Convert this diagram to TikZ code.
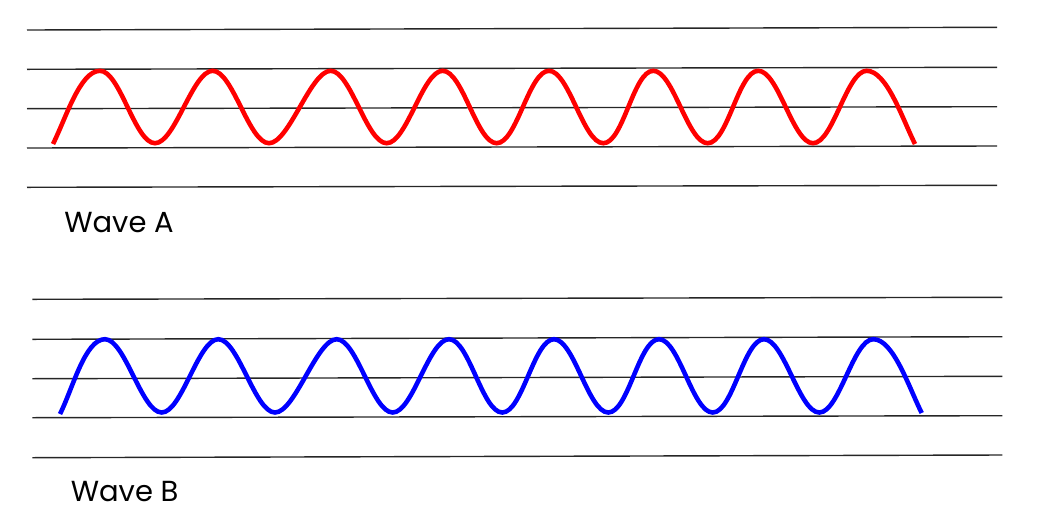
\documentclass[tikz,border=0pt]{standalone}
\usepackage{fontspec}
\setmainfont{Poppins}

\tikzset{
  every node/.style={font=\fontsize{16.5}{18}\selectfont, inner sep=0pt},
  staff/.style={line width=0.8pt, black!85},
  redwave/.style={line width=2.6pt, red},
  bluewave/.style={line width=2.6pt, blue},
}

\begin{document}
\begin{tikzpicture}[x=0.02cm, y=-0.02cm]
  \useasboundingbox (0,0) rectangle (1040,514);

  % wave A
  \foreach \l/\r in {30/27.3, 69.3/67.3, 108.7/106.7, 148/146, 187.3/185.3}
    \draw[staff] (27,\l) -- (997,\r);
  \draw[redwave] (53,144) .. controls +(13,-26) and +(-20,0) .. (100,70.8)
    \foreach \px/\py in {155/143.2, 212.7/70.8, 269/143.2, 330.7/70.8, 386.7/143.2,
                         442.7/70.8, 496.7/143.2, 549/70.8, 603.3/143.2, 653.3/70.8,
                         707.7/143.2, 758.3/70.8, 813/143.2, 866.7/70.8}
      { .. controls +(20,0) and +(-20,0) .. (\px,\py) }
    .. controls +(20,0) and +(-13,-26) .. (915,144);
  \node[anchor=base west] (labelA) at (64,232) {Wave A};

  % wave B
  \foreach \l/\r in {299.3/297.3, 339.3/336.7, 378.7/376.3, 417.7/415.7, 457.7/455}
    \draw[staff] (32.3,\l) -- (1002.3,\r);
  \draw[bluewave] (60,414) .. controls +(13,-26) and +(-20,0) .. (105,339.2)
    \foreach \px/\py in {161.7/412.5, 218.3/339.2, 275/412.5, 336.7/339.2, 392.7/412.5,
                         449/339.2, 502.3/412.5, 554/339.2, 608.3/412.5, 659/339.2,
                         712.7/412.5, 764/339.2, 819.3/412.5, 873.3/339.2}
      { .. controls +(20,0) and +(-20,0) .. (\px,\py) }
    .. controls +(20,0) and +(-13,-26) .. (921.7,413);
  \node[anchor=base west] (labelB) at (70.5,501) {Wave B};
\end{tikzpicture}
\end{document}
